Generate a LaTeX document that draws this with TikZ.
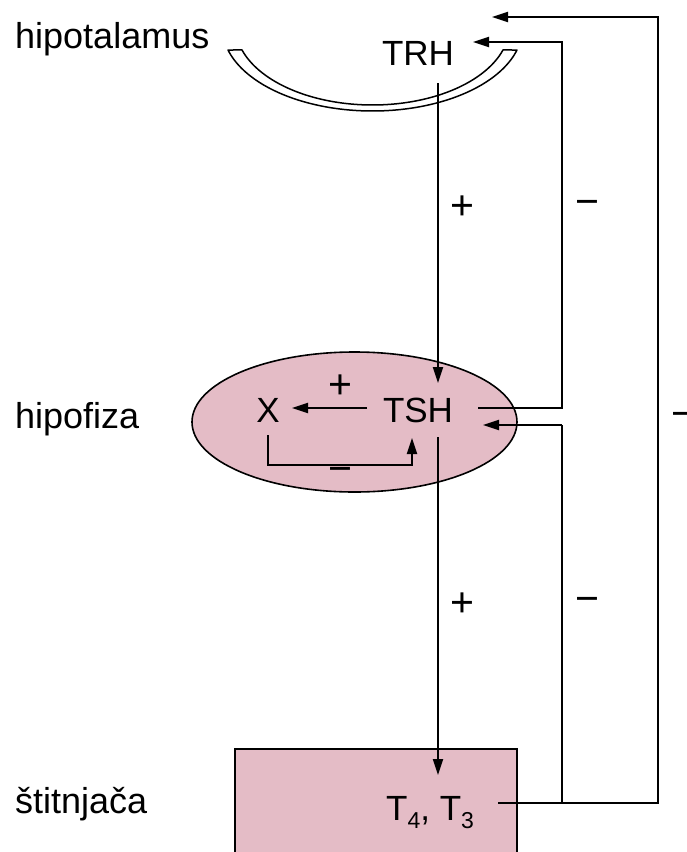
\documentclass[tikz,border=0pt]{standalone}
\usepackage{fontspec}
\setmainfont{Liberation Sans}
\usetikzlibrary{arrows.meta,shapes.geometric}
\definecolor{organpink}{RGB}{228,188,198}
\tikzset{
  lbl/.style={font=\fontsize{35}{40}\selectfont, inner sep=0pt, anchor=base},
  side/.style={font=\fontsize{36}{40}\selectfont, inner sep=0pt, anchor=base west},
  sgn/.style={font=\fontsize{41}{46}\selectfont, inner sep=0pt},
  conn/.style={line width=1.8pt, -{Triangle[length=16pt,width=10pt]}},
  plain/.style={line width=1.8pt},
  organ/.style={draw=black, line width=1.6pt, fill=organpink}
}
\newcommand{\subdig}[1]{\raisebox{-8pt}{\fontsize{23}{24}\selectfont #1}}
\begin{document}
\begin{tikzpicture}[x=1pt,y=-1pt]
\useasboundingbox (0,0) rectangle (686,852);
% organs
\node[organ, shape=rectangle, minimum width=282pt, minimum height=130pt, anchor=north west, inner sep=0pt] (thy) at (234,748) {};
\node[organ, shape=ellipse, minimum width=325pt, minimum height=140pt, inner sep=0pt] (pit) at (354.5,422) {};
% hypothalamus cup
\path[fill=white, draw=black, line width=1.5pt, line join=round]
  plot[domain=164.4:15.6, samples=90] ({372.5+150*cos(\x)}, {27.6+83.4*sin(\x)})
  -- plot[domain=17.7:162.3, samples=90] ({372.5+137*cos(\x)}, {25.9+79.1*sin(\x)})
  -- cycle;
% labels
\node[side] (lhyp) at (15,48) {hipotalamus};
\node[side] (lpit) at (15,428) {hipofiza};
\node[side] (lthy) at (15,813) {štitnjača};
\node[lbl] (trh) at (418,65) {TRH};
\node[lbl] (tsh) at (418,422) {TSH};
\node[lbl] (x) at (268,422) {X};
\node[lbl, anchor=base west] (t43) at (386,820) {T\subdig{4}, T\subdig{3}};
% coordinates
\coordinate (trhS) at (438,83);
\coordinate (tshN) at (438,383);
\coordinate (tshS) at (438,437);
\coordinate (t43N) at (438,775);
\coordinate (tshE) at (478,408);
\coordinate (tshEin) at (483,425);
\coordinate (trhE) at (473,42);
\coordinate (topIn) at (492,17);
\coordinate (t43E) at (498,803);
\coordinate (tshW) at (367,408);
\coordinate (xE) at (292,408);
\coordinate (xS) at (268,435);
\coordinate (tshSW) at (412,438);
% connectors
\draw[conn] (trhS) -- (tshN);
\draw[conn] (tshS) -- (t43N);
\draw[conn] (tshE) -- (562,408) -- (562,42) -- (trhE);
\draw[conn] (t43E) -- (658,803) -- (658,17) -- (topIn);
\draw[plain] (562,803) -- (562,425);
\draw[conn] (562,425) -- (tshEin);
\draw[conn] (tshW) -- (xE);
\draw[conn] (xS) -- (268,465) -- (412,465) -- (tshSW);
% signs
\node[sgn] (p1) at (462,208) {+};
\node[sgn] (m1) at (587,208) {−};
\node[sgn] (p2) at (462,605) {+};
\node[sgn] (m2) at (587,605) {−};
\node[sgn] (p3) at (340,387) {+};
\node[sgn] (m3) at (340,475) {−};
\node[sgn, anchor=west] (m4) at (671,420) {−};
\end{tikzpicture}
\end{document}
